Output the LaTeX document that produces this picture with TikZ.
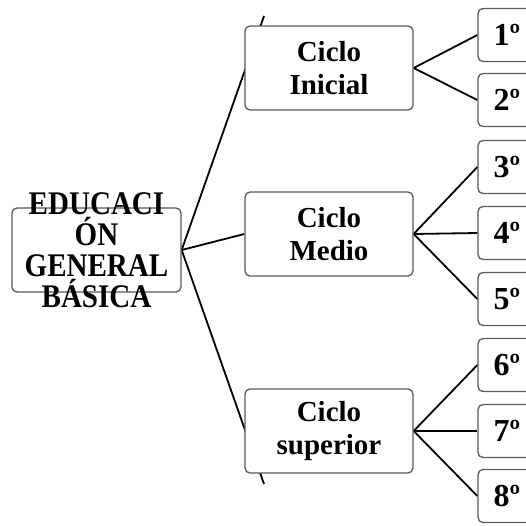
\documentclass[tikz,border=0pt]{standalone}
\usepackage{fontspec}
\setmainfont{Liberation Serif}
\newfontfamily\rootfont[FakeStretch=0.88]{Liberation Serif}
\usetikzlibrary{positioning,backgrounds}

\begin{document}
\begin{tikzpicture}[x=1pt,y=-1pt]
  \tikzset{ box/.style={draw=black!65,line width=1.3pt,fill=white,rounded corners=5pt,inner sep=0pt},
    rootbox/.style={box,minimum width=169pt,minimum height=84pt},
    ciclo/.style={box,minimum width=168pt,minimum height=84pt,align=center,
      font=\fontsize{29}{33}\selectfont\bfseries},
    grado/.style={box,minimum width=58pt,minimum height=53pt,
      font=\fontsize{32}{33}\selectfont\bfseries},
    link/.style={line width=1.8pt,black},
  }
  \useasboundingbox (0,0) rectangle (526,525);

  \node[rootbox] (root) at (96.5,250) {};
  \node[align=center,font=\rootfont\fontsize{33}{31}\selectfont\bfseries] (roottxt) at (root) {EDUCACI\\ÓN\\GENERAL\\BÁSICA};

  \node[ciclo] (inicial) at (329,68) {Ciclo\\Inicial};
  \node[ciclo] (medio) at (329,234) {Ciclo\\Medio};
  \node[ciclo] (superior) at (329,431) {Ciclo\\superior};

  \node[grado] (g1) at (507,35) {1º};
  \node[grado] (g2) at (507,100) {2º};
  \node[grado] (g3) at (507,167) {3º};
  \node[grado] (g4) at (507,233) {4º};
  \node[grado] (g5) at (507,299) {5º};
  \node[grado] (g6) at (507,365) {6º};
  \node[grado] (g7) at (507,431) {7º};
  \node[grado] (g8) at (507,496) {8º};

  \coordinate (arriba) at (264,16);
  \coordinate (abajo) at (264,484);

  % the connections, behind the boxes
  \begin{scope}[on background layer]
    \draw[link] (root.east) -- (arriba);
    \draw[link] (root.east) -- (medio.west);
    \draw[link] (root.east) -- (abajo);
    \draw[link] (inicial.east) -- (g1.west);
    \draw[link] (inicial.east) -- (g2.west);
    \draw[link] (medio.east) -- (g3.west);
    \draw[link] (medio.east) -- (g4.west);
    \draw[link] (medio.east) -- (g5.west);
    \draw[link] (superior.east) -- (g6.west);
    \draw[link] (superior.east) -- (g7.west);
    \draw[link] (superior.east) -- (g8.west);
  \end{scope}
\end{tikzpicture}
\end{document}
